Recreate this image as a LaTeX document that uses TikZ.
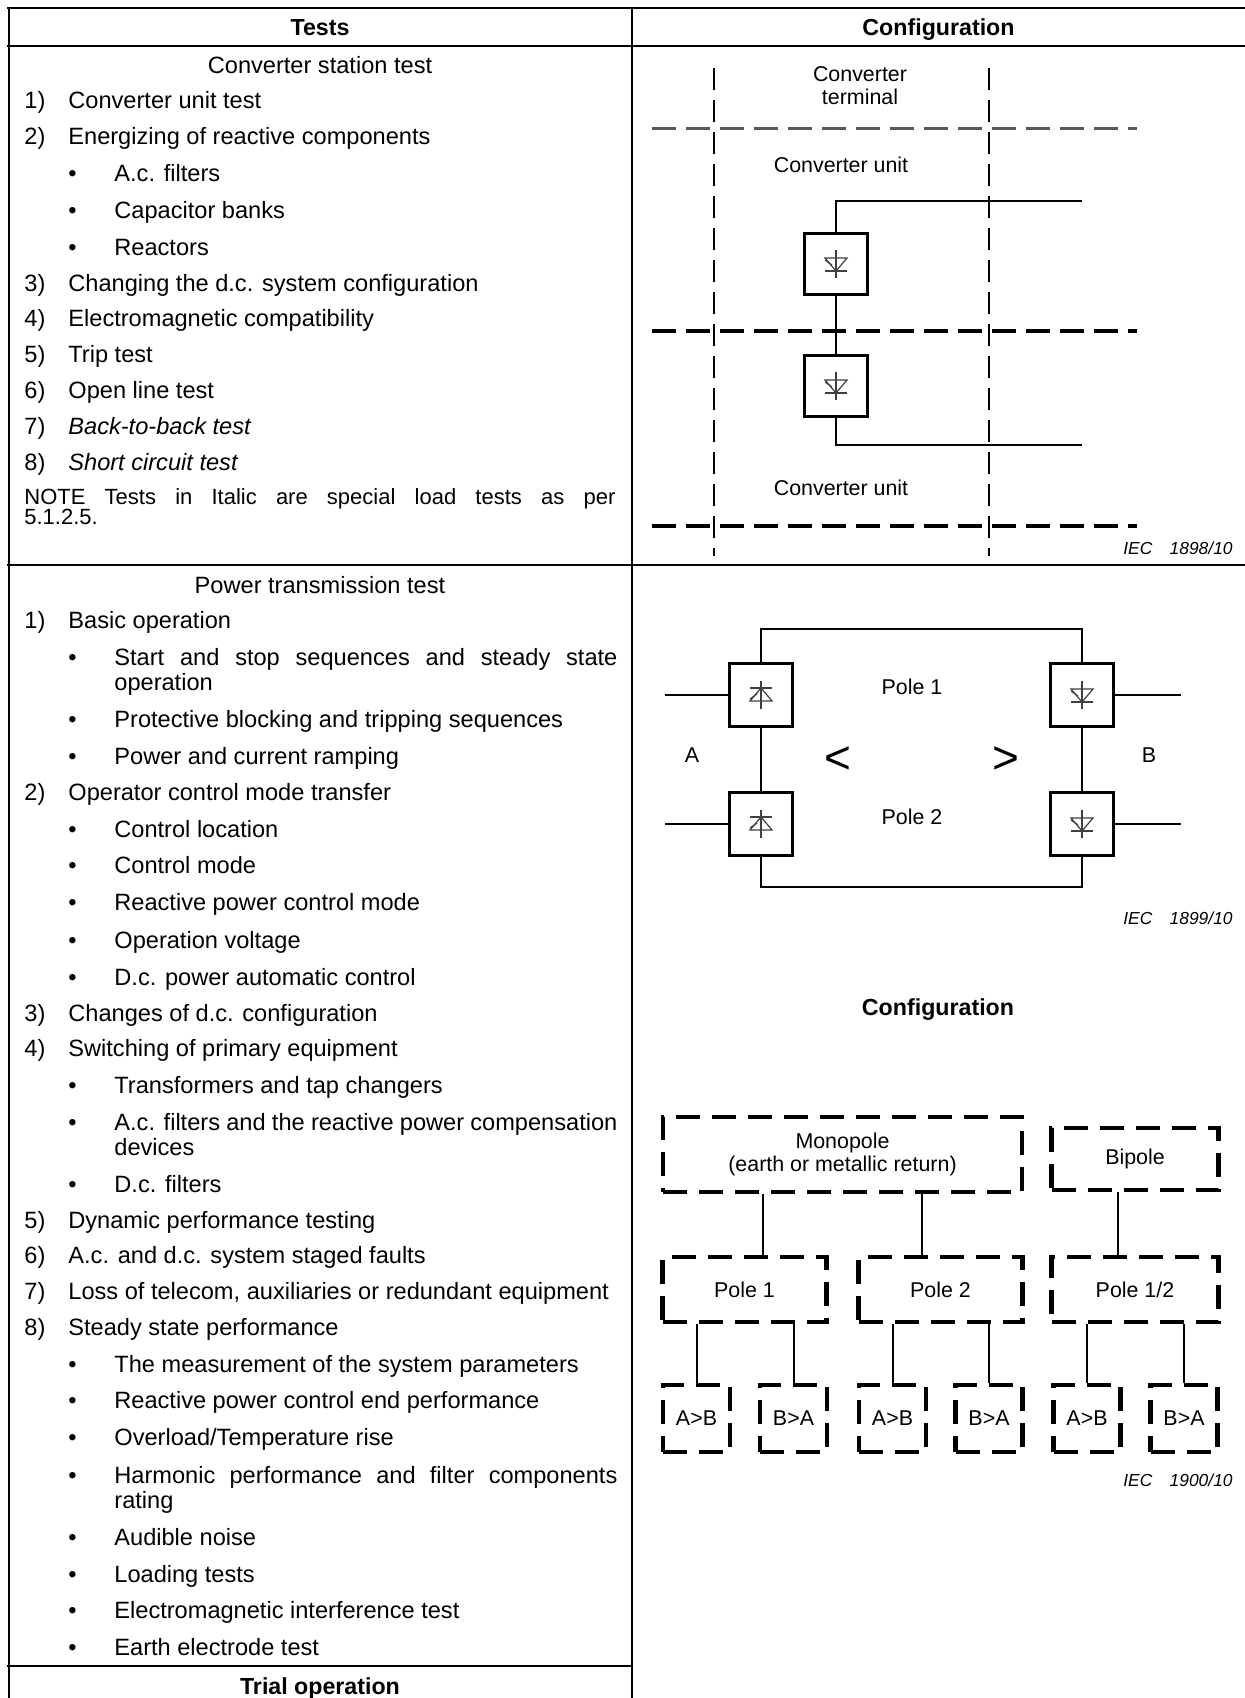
\documentclass[tikz,border=0pt]{standalone}
\usepackage{fontspec}
\setmainfont{Liberation Sans}
\usetikzlibrary{calc}
\hyphenpenalty=10000

\newcommand{\thyr}[2]{%
	\begin{scope}[shift={(#1.center)}, yscale=#2, line width=0.6pt, black!75]
		\draw (0,-14) -- (0,14);
		\draw (-11,-6) -- (11,-6) -- (0,7) -- cycle;
		\draw (-11,7) -- (11,7);
		\draw (-4,1) -- (-11,-4);
	\end{scope}}

\begin{document}
\begin{tikzpicture}[x=0.5pt, y=-0.5pt,
	tabline/.style={line width=1.3pt, line cap=rect},
	txt/.style={font=\fontsize{11.8}{12.5}\selectfont, anchor=base west, inner sep=0pt},
	bul/.style={txt, text width=251.5pt, align=justify},
	note/.style={txt, font=\fontsize{11}{10}\selectfont, text width=295.5pt, align=justify},
	hdr/.style={font=\fontsize{11.6}{14}\selectfont\bfseries, anchor=base, inner sep=0pt},
	ttl/.style={font=\fontsize{11.8}{14}\selectfont, anchor=base, inner sep=0pt},
	lbl/.style={font=\fontsize{10.7}{11.8}\selectfont, inner sep=0pt},
	iec/.style={font=\fontsize{8.7}{10}\selectfont\itshape, anchor=base east, inner sep=0pt},
	wire/.style={line width=1pt},
	tbox/.style={draw, line width=1.3pt, fill=white, minimum width=31.5pt, minimum height=31.5pt, inner sep=0pt},
	vdash/.style={line width=1.1pt, dash pattern=on 11pt off 5pt},
	hdash/.style={line width=2.3pt, dash pattern=on 12pt off 5pt},
	dbox/.style={draw, line width=2.2pt, dash pattern=on 12pt off 6pt, lbl}]
	\def\cA{24}
	\def\cB{68}
	\def\cC{114}

	\useasboundingbox (0,0) rectangle (1245,1698);

	\draw[tabline]	(8,8) -- (1245,8);
	\draw[tabline]	(8,46) -- (1245,46);
	\draw[tabline]	(8,565) -- (1245,565);
	\draw[tabline]	(8,1666) -- (632,1666);
	\draw[tabline]	(9,8) -- (9,1698);
	\draw[tabline]	(632,8) -- (632,1698);

	\node[hdr] (hT) at (320,35.3) {Tests};
	\node[hdr] (hC) at (938.5,35.3) {Configuration};

	% converter station test
	\node[ttl] (s1) at (320,73.5) {Converter station test};
	\node[txt] (n11) at (\cA,108.5) {1)};
	\node[txt] (t11) at (\cB,108.5) {Converter unit test};
	\node[txt] (n12) at (\cA,144.5) {2)};
	\node[txt] (t12) at (\cB,144.5) {Energizing of reactive components};
	\node[txt] (d121) at (\cB,181.5) {\textbullet};
	\node[txt] (t121) at (\cC,181.5) {A.c. filters};
	\node[txt] (d122) at (\cB,218.5) {\textbullet};
	\node[txt] (t122) at (\cC,218.5) {Capacitor banks};
	\node[txt] (d123) at (\cB,255.5) {\textbullet};
	\node[txt] (t123) at (\cC,255.5) {Reactors};
	\node[txt] (n13) at (\cA,291.5) {3)};
	\node[txt] (t13) at (\cB,291.5) {Changing the d.c. system configuration};
	\node[txt] (n14) at (\cA,326.5) {4)};
	\node[txt] (t14) at (\cB,326.5) {Electromagnetic compatibility};
	\node[txt] (n15) at (\cA,362.5) {5)};
	\node[txt] (t15) at (\cB,362.5) {Trip test};
	\node[txt] (n16) at (\cA,398.5) {6)};
	\node[txt] (t16) at (\cB,398.5) {Open line test};
	\node[txt] (n17) at (\cA,434) {7)};
	\node[txt] (t17) at (\cB,434) {\itshape Back-to-back test};
	\node[txt] (n18) at (\cA,470) {8)};
	\node[txt] (t18) at (\cB,470) {\itshape Short circuit test};
	\node[note] (nt) at (\cA,504) {NOTE Tests in Italic are special load tests as per\linebreak 5.1.2.5.};

	% power transmission test
	\node[ttl] (s2) at (320,593.5) {Power transmission test};
	\node[txt] (n21) at (\cA,628) {1)};
	\node[txt] (t21) at (\cB,628) {Basic operation};
	\node[txt] (d211) at (\cB,665.5) {\textbullet};
	\node[bul] (t211) at (\cC,665.5) {Start and stop sequences and steady state\linebreak operation};
	\node[txt] (d212) at (\cB,727.5) {\textbullet};
	\node[txt] (t212) at (\cC,727.5) {Protective blocking and tripping sequences};
	\node[txt] (d213) at (\cB,764.5) {\textbullet};
	\node[txt] (t213) at (\cC,764.5) {Power and current ramping};
	\node[txt] (n22) at (\cA,800.5) {2)};
	\node[txt] (t22) at (\cB,800.5) {Operator control mode transfer};
	\node[txt] (d221) at (\cB,837) {\textbullet};
	\node[txt] (t221) at (\cC,837) {Control location};
	\node[txt] (d222) at (\cB,873.5) {\textbullet};
	\node[txt] (t222) at (\cC,873.5) {Control mode};
	\node[txt] (d223) at (\cB,910.5) {\textbullet};
	\node[txt] (t223) at (\cC,910.5) {Reactive power control mode};
	\node[txt] (d224) at (\cB,948.5) {\textbullet};
	\node[txt] (t224) at (\cC,948.5) {Operation voltage};
	\node[txt] (d225) at (\cB,985.5) {\textbullet};
	\node[txt] (t225) at (\cC,985.5) {D.c. power automatic control};
	\node[txt] (n23) at (\cA,1021) {3)};
	\node[txt] (t23) at (\cB,1021) {Changes of d.c. configuration};
	\node[txt] (n24) at (\cA,1056.5) {4)};
	\node[txt] (t24) at (\cB,1056.5) {Switching of primary equipment};
	\node[txt] (d241) at (\cB,1093.5) {\textbullet};
	\node[txt] (t241) at (\cC,1093.5) {Transformers and tap changers};
	\node[txt] (d242) at (\cB,1130.5) {\textbullet};
	\node[bul] (t242) at (\cC,1130.5) {A.c. filters and the reactive power compensation\linebreak devices};
	\node[txt] (d243) at (\cB,1192.5) {\textbullet};
	\node[txt] (t243) at (\cC,1192.5) {D.c. filters};
	\node[txt] (n25) at (\cA,1228) {5)};
	\node[txt] (t25) at (\cB,1228) {Dynamic performance testing};
	\node[txt] (n26) at (\cA,1263.5) {6)};
	\node[txt] (t26) at (\cB,1263.5) {A.c. and d.c. system staged faults};
	\node[txt] (n27) at (\cA,1299.5) {7)};
	\node[txt] (t27) at (\cB,1299.5) {Loss of telecom, auxiliaries or redundant equipment};
	\node[txt] (n28) at (\cA,1335.5) {8)};
	\node[txt] (t28) at (\cB,1335.5) {Steady state performance};
	\node[txt] (d281) at (\cB,1372) {\textbullet};
	\node[txt] (t281) at (\cC,1372) {The measurement of the system parameters};
	\node[txt] (d282) at (\cB,1408.5) {\textbullet};
	\node[txt] (t282) at (\cC,1408.5) {Reactive power control end performance};
	\node[txt] (d283) at (\cB,1445.5) {\textbullet};
	\node[txt] (t283) at (\cC,1445.5) {Overload/Temperature rise};
	\node[txt] (d284) at (\cB,1483.5) {\textbullet};
	\node[bul] (t284) at (\cC,1483.5) {Harmonic performance and filter components\linebreak rating};
	\node[txt] (d285) at (\cB,1545.5) {\textbullet};
	\node[txt] (t285) at (\cC,1545.5) {Audible noise};
	\node[txt] (d286) at (\cB,1582.5) {\textbullet};
	\node[txt] (t286) at (\cC,1582.5) {Loading tests};
	\node[txt] (d287) at (\cB,1618.5) {\textbullet};
	\node[txt] (t287) at (\cC,1618.5) {Electromagnetic interference test};
	\node[txt] (d288) at (\cB,1655.5) {\textbullet};
	\node[txt] (t288) at (\cC,1655.5) {Earth electrode test};
	\node[hdr] (s3) at (320,1694.3) {Trial operation};

	% converter units
	\draw[vdash]	(714,68) -- (714,556);
	\draw[vdash]	(989,68) -- (989,556);
	\draw[hdash, line width=1.4pt, black!65]	(652,128.5) -- (1137,128.5);
	\draw[hdash]	(652,331) -- (1137,331);
	\draw[hdash]	(652,526) -- (1137,526);

	\node[tbox, minimum height=30.5pt] (ua) at (836,264) {};
	\node[tbox, minimum height=30.5pt] (ub) at (836,386) {};
	\thyr{ua}{1}
	\thyr{ub}{1}
	\coordinate (ta) at (1082,201);
	\coordinate (tb) at (1082,445);
	\draw[wire, line width=0.9pt]	(ua.north) |- (ta);
	\draw[wire, line width=0.9pt]	(ua.south) -- (ub.north);
	\draw[wire, line width=0.9pt]	(ub.south) |- (tb);

	\node[lbl, align=center] (ct) at (860,85.5) {Converter\\terminal};
	\node[lbl] (cu1) at (841,165) {Converter unit};
	\node[lbl] (cu2) at (841,488) {Converter unit};
	\node[iec] (iec1) at (1233,554.2) {IEC\quad 1898/10};

	% poles between A and B
	\node[tbox] (pa1) at (761,695) {};
	\node[tbox] (pa2) at (761,824) {};
	\node[tbox] (pb1) at (1082,695) {};
	\node[tbox] (pb2) at (1082,824) {};
	\thyr{pa1}{-1}
	\thyr{pa2}{-1}
	\thyr{pb1}{1}
	\thyr{pb2}{1}
	\coordinate (top) at (900,629);
	\coordinate (bot) at (900,887);
	\coordinate (ea1) at (665,695);
	\coordinate (ea2) at (665,824);
	\coordinate (eb1) at (1181,695);
	\coordinate (eb2) at (1181,824);
	\draw[wire]	(pa1.north) -- (pa1.north |- top) -- (pb1.north |- top) -- (pb1.north);
	\draw[wire]	(pa2.south) -- (pa2.south |- bot) -- (pb2.south |- bot) -- (pb2.south);
	\draw[wire]	(pa1.south) -- (pa2.north);
	\draw[wire]	(pb1.south) -- (pb2.north);
	\draw[wire]	(ea1) -- (pa1.west);
	\draw[wire]	(ea2) -- (pa2.west);
	\draw[wire]	(pb1.east) -- (eb1);
	\draw[wire]	(pb2.east) -- (eb2);

	\node[lbl] (pl1) at (912,687) {Pole 1};
	\node[lbl] (pl2) at (912,817) {Pole 2};
	\node[lbl] (sa) at (692,755) {A};
	\node[lbl] (sb) at (1149,755) {B};
	\node[font=\fontsize{23}{23}\selectfont, inner sep=0pt] (lt) at (838,760) {<};
	\node[font=\fontsize{23}{23}\selectfont, inner sep=0pt] (gt) at (1006,760) {>};
	\node[iec] (iec2) at (1233,924.2) {IEC\quad 1899/10};

	% configurations
	\node[hdr] (hC2) at (938,1015.3) {Configuration};
	\node[dbox, minimum width=179.5pt, minimum height=37.5pt, align=center] (mono) at (842.5,1154.5) {Monopole\\(earth or metallic return)};
	\node[dbox, minimum width=83.5pt, minimum height=31pt] (bip) at (1135,1159) {Bipole};
	\node[dbox, minimum width=82pt, minimum height=32.5pt] (p1) at (744.5,1289.5) {Pole 1};
	\node[dbox, minimum width=82pt, minimum height=32.5pt] (p2) at (940.5,1289.5) {Pole 2};
	\node[dbox, minimum width=83.5pt, minimum height=32.5pt] (p12) at (1135,1289.5) {Pole 1/2};
	\node[dbox, minimum size=33.5pt] (ab1) at (696.5,1418.5) {A>B};
	\node[dbox, minimum size=33.5pt] (ba1) at (793.5,1418.5) {B>A};
	\node[dbox, minimum size=33.5pt] (ab2) at (892.5,1418.5) {A>B};
	\node[dbox, minimum size=33.5pt] (ba2) at (989,1418.5) {B>A};
	\node[dbox, minimum size=33.5pt] (ab3) at (1087,1418.5) {A>B};
	\node[dbox, minimum size=33.5pt] (ba3) at (1184,1418.5) {B>A};

	\draw[wire]	([xshift=9.25pt]p1.north) -- ([xshift=9.25pt]p1.north |- mono.south);
	\draw[wire]	([xshift=-9.25pt]p2.north) -- ([xshift=-9.25pt]p2.north |- mono.south);
	\draw[wire]	([xshift=-8.5pt]p12.north) -- ([xshift=-8.5pt]p12.north |- bip.south);
	\draw[wire]	(ab1.north) -- (ab1.north |- p1.south);
	\draw[wire]	(ba1.north) -- (ba1.north |- p1.south);
	\draw[wire]	(ab2.north) -- (ab2.north |- p2.south);
	\draw[wire]	(ba2.north) -- (ba2.north |- p2.south);
	\draw[wire]	(ab3.north) -- (ab3.north |- p12.south);
	\draw[wire]	(ba3.north) -- (ba3.north |- p12.south);
	\node[iec] (iec3) at (1233,1486.2) {IEC\quad 1900/10};
\end{tikzpicture}
\end{document}
